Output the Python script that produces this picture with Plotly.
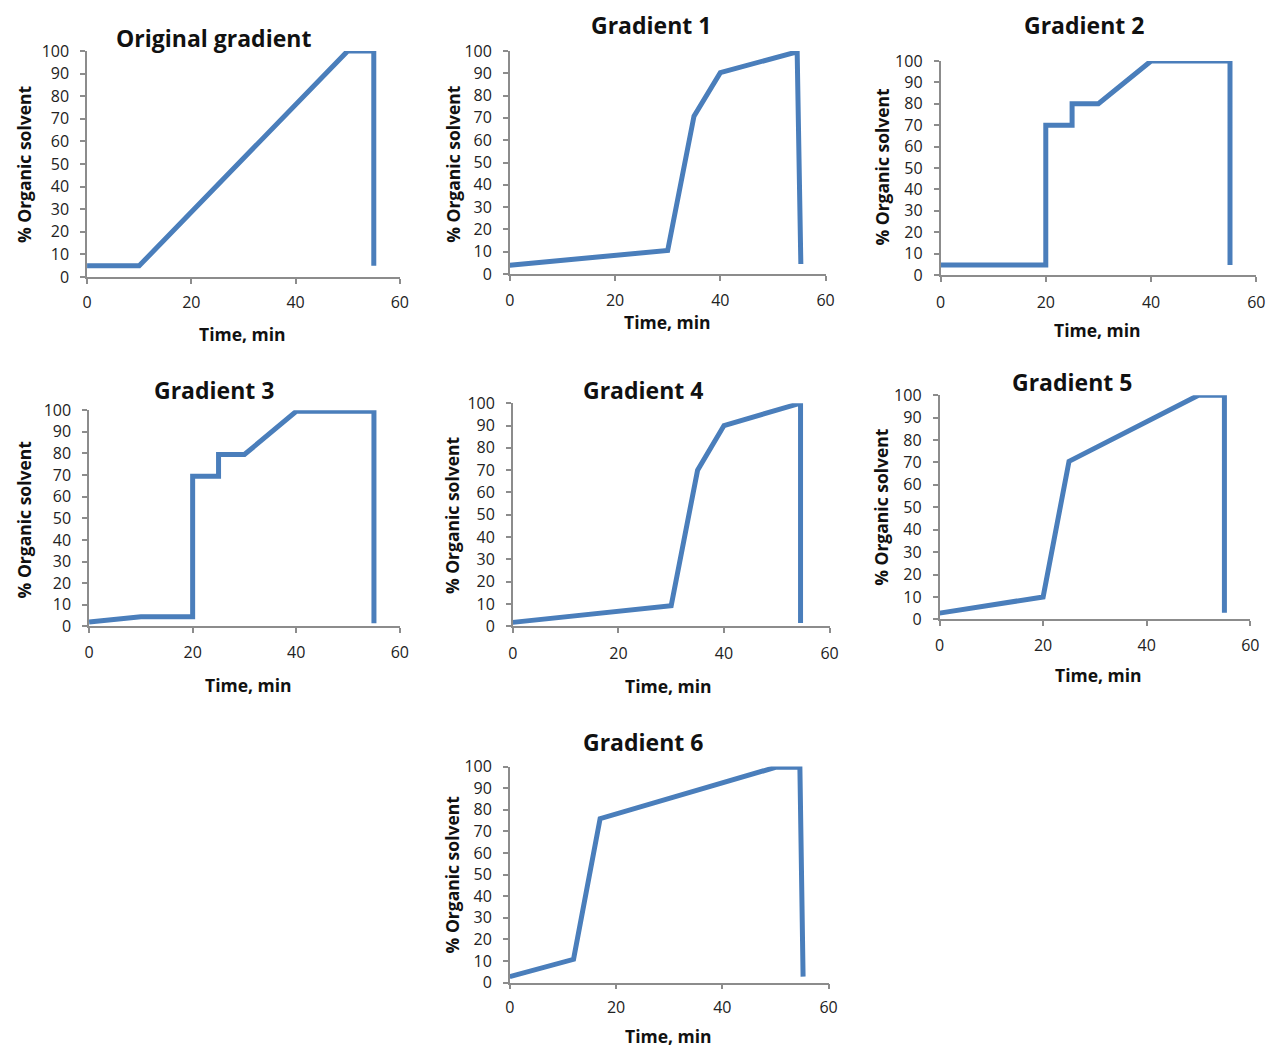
import plotly.graph_objects as go

# The capture maps page pixels to picture pixels approximately as
#   X = 0.9897 * x + 3.9,  Y = 0.9785 * y + 11.1
# so reference positions are converted back to page pixels.
SX, BX = 0.9897, 3.9
SY, BY = 0.9785, 11.1
W, H = 1282, 1062

titles = ["Original gradient", "Gradient 1", "Gradient 2", "Gradient 3",
          "Gradient 4", "Gradient 5", "Gradient 6"]

t_orig = [0, 10, 50, 55, 55]
c_orig = [5, 5, 100, 100, 5]

t_g1 = [0, 30, 35, 40, 54.6, 55.3]
c_g1 = [4, 10.6, 70.8, 90.3, 99.6, 4.5]

t_g2 = [0, 20, 20, 25, 25, 30, 40, 55, 55]
c_g2 = [4.7, 4.7, 70, 70, 80, 80, 100, 100, 4.7]

t_g3 = [0, 10, 20, 20, 25, 25, 30, 40, 55, 55]
c_g3 = [2, 4.5, 4.5, 69.5, 69.5, 79.5, 79.5, 99.5, 99.5, 1.5]

t_g4 = [0, 30, 35, 40, 54.5, 54.5]
c_g4 = [1.8, 9.3, 70, 90, 100, 1.5]

t_g5 = [0, 20, 25, 50, 55, 55]
c_g5 = [2.8, 10, 70.5, 100, 100, 3]

t_g6 = [0, 12, 17, 50, 54.6, 55.2]
c_g6 = [2.8, 10.8, 75.9, 99.6, 99.6, 2.8]

series_t = [t_orig, t_g1, t_g2, t_g3, t_g4, t_g5, t_g6]
series_c = [c_orig, c_g1, c_g2, c_g3, c_g4, c_g5, c_g6]

y_ticks = [0, 10, 20, 30, 40, 50, 60, 70, 80, 90, 100]
x_ticks = [0, 20, 40, 60]
x_label = "Time, min"
y_label = "% Organic solvent"

# geometry in reference pixels: (x_left, x_right, y_top, y_bottom)
boxes = [
    (86, 399, 51, 277),
    (509, 825, 51, 274),
    (940, 1256, 61, 275),
    (88, 399, 410, 626),
    (512, 829, 403, 626),
    (939, 1250, 395, 619),
    (509, 828, 766, 982),
]
title_pos = [(213, 38), (650, 25), (1084, 25), (213, 390), (642, 390), (1072, 382), (642, 742)]
xlab_pos = [(242, 334), (667, 322), (1097, 330), (248, 685), (668, 686), (1098, 675), (668, 1035)]
ylab_pos = [(23, 164), (452, 164), (881, 167), (23, 519), (451, 515), (881, 507), (451, 874)]
xtick_y = [302, 300, 302, 652, 653, 645, 1006]

FONT = "Open Sans"
LINE = "#4a7ebb"
AXC = "#8c8c8c"


def fx(x):
    return (x - BX) / SX


def fy(y):
    return (y - BY) / SY


def px(x):
    return fx(x) / W


def py(y):
    return 1 - fy(y) / H


fig = go.Figure()
layout = dict(width=W, height=H, margin=dict(l=0, r=0, t=0, b=0),
              paper_bgcolor="white", plot_bgcolor="white", showlegend=False,
              font=dict(family=FONT, size=15, color="#222222"))
annotations = []

for i in range(7):
    xl, xr, yt, yb = boxes[i]
    sfx = "" if i == 0 else str(i + 1)
    xa = "x" + sfx
    ya = "y" + sfx
    fig.add_trace(go.Scatter(x=series_t[i], y=series_c[i], mode="lines",
                             line=dict(color=LINE, width=5),
                             xaxis=xa, yaxis=ya, cliponaxis=False, hoverinfo="skip"))
    xpad = round(fy(xtick_y[i]) - fy(yb) - 20.5)
    layout["xaxis" + sfx] = dict(
        domain=[px(xl), px(xr)], anchor=ya, range=[0, 60], tickvals=x_ticks,
        showline=True, linecolor=AXC, linewidth=1.5, ticks="outside", ticklen=5,
        tickcolor=AXC, tickwidth=1.5, showgrid=False, zeroline=False,
        tickfont=dict(size=16, color="#222"),
        ticklabelstandoff=max(xpad, 0), fixedrange=True)
    layout["yaxis" + sfx] = dict(
        domain=[py(yb), py(yt)], anchor=xa, range=[0, 100], tickvals=y_ticks,
        showline=True, linecolor=AXC, linewidth=1.5, ticks="outside", ticklen=5,
        tickcolor=AXC, tickwidth=1.5, showgrid=False, zeroline=False,
        tickfont=dict(size=16, color="#222"),
        ticklabelstandoff=8, fixedrange=True)
    tx, ty = title_pos[i]
    annotations.append(dict(text="<b>" + titles[i] + "</b>", x=px(tx), y=py(ty),
                            xref="paper", yref="paper", showarrow=False,
                            xanchor="center", yanchor="middle",
                            font=dict(size=23, color="#111", family=FONT)))
    lx, ly = xlab_pos[i]
    annotations.append(dict(text="<b>" + x_label + "</b>", x=px(lx), y=py(ly),
                            xref="paper", yref="paper", showarrow=False,
                            xanchor="center", yanchor="middle",
                            font=dict(size=17.5, color="#111", family=FONT)))
    vx, vy = ylab_pos[i]
    annotations.append(dict(text="<b>" + y_label + "</b>", x=px(vx), y=py(vy),
                            xref="paper", yref="paper", showarrow=False, textangle=-90,
                            xanchor="center", yanchor="middle",
                            font=dict(size=17.5, color="#111", family=FONT)))

layout["annotations"] = annotations
fig.update_layout(**layout)
fig.write_html("out.html")
